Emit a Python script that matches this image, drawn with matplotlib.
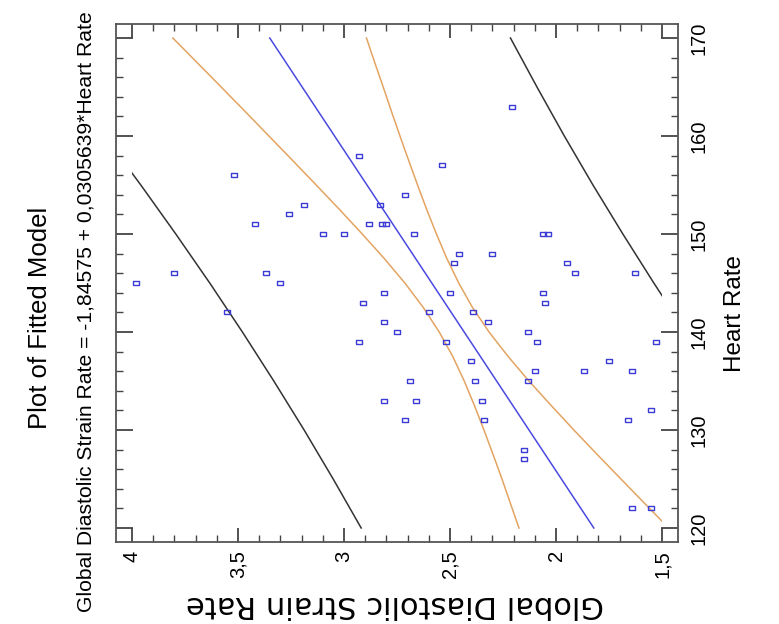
import numpy as np
import matplotlib
matplotlib.use('Agg')
import matplotlib.pyplot as plt
import matplotlib.patches as mpatches
from matplotlib.ticker import MultipleLocator

#--- DATA ---
heart_rate = [145, 146, 156, 142, 151, 146, 145, 152, 153, 150,
              150, 158, 151, 153, 151, 151, 139, 143, 144, 141,
              133, 135, 133, 131, 140, 154, 150, 142, 157, 147,
              148, 144, 139, 137, 142, 135, 133, 131, 148, 141,
              163, 150, 150, 147, 146, 146, 144, 143, 140, 139,
              139, 137, 136, 136, 136, 135, 132, 131, 128, 127,
              122, 122]
strain_rate = [3.98, 3.80, 3.52, 3.55, 3.42, 3.37, 3.30, 3.26, 3.19, 3.10,
               3.00, 2.93, 2.88, 2.83, 2.82, 2.80, 2.93, 2.91, 2.81, 2.81,
               2.81, 2.69, 2.66, 2.71, 2.75, 2.71, 2.67, 2.60, 2.54, 2.48,
               2.46, 2.50, 2.52, 2.40, 2.39, 2.38, 2.35, 2.34, 2.30, 2.32,
               2.21, 2.06, 2.04, 1.95, 1.91, 1.63, 2.06, 2.05, 2.13, 2.09,
               1.53, 1.75, 2.10, 1.87, 1.64, 2.13, 1.55, 1.66, 2.15, 2.15,
               1.64, 1.55]

# fitted line (from title equation)
fit_hr = [120, 170]
fit_sr = [1.822, 3.350]

# confidence limits (orange)
conf_hr = [120, 122.5, 125, 127.5, 130, 132.5, 135, 137.5, 140, 142.5, 145,
           147.5, 150, 152.5, 155, 157.5, 160, 162.5, 165, 167.5, 170]
conf_lo = [1.469, 1.582, 1.694, 1.806, 1.916, 2.023, 2.128, 2.226, 2.316, 2.394, 2.459,
           2.515, 2.564, 2.610, 2.653, 2.695, 2.736, 2.776, 2.815, 2.855, 2.894]
conf_hi = [2.175, 2.215, 2.255, 2.297, 2.340, 2.385, 2.433, 2.487, 2.551, 2.626, 2.713,
           2.810, 2.914, 3.021, 3.131, 3.242, 3.354, 3.466, 3.579, 3.693, 3.807]

# prediction limits (black)
pred_hr = [120, 125, 130, 135, 140, 145, 150, 155, 160, 165, 170]
pred_lo = [0.725, 0.899, 1.067, 1.230, 1.388, 1.539, 1.685, 1.826, 1.961, 2.090, 2.215]
pred_hi = [2.919, 3.051, 3.188, 3.331, 3.479, 3.633, 3.793, 3.958, 4.129, 4.304, 4.485]

sr_ticks = [4, 3.5, 3, 2.5, 2, 1.5]
sr_labels = ['4', '3,5', '3', '2,5', '2', '1,5']
hr_ticks = [120, 130, 140, 150, 160, 170]
hr_labels = ['120', '130', '140', '150', '160', '170']

title1 = 'Plot of Fitted Model'
title2 = 'Global Diastolic Strain Rate = -1,84575 + 0,0305639*Heart Rate'
xlabel = 'Heart Rate'
ylabel = 'Global Diastolic Strain Rate'

#--- FONTS ---
sans = ['Liberation Sans', 'DejaVu Sans']

#--- FIGURE ---
# chart is drawn rotated: strain rate runs left->right (inverted), heart rate bottom->top
fig = plt.figure(figsize=(7.79, 6.24), dpi=100)
ax = fig.add_axes([116/779, 1 - 542/624, (678-116)/779, (542-24)/624])

clip = mpatches.Rectangle((1.5, 100), 2.5, 100, transform=ax.transData)

line_color = '#333333'
orange = '#e3a462'
blue = '#4a4ae0'

for xs, ys, c in [(pred_lo, pred_hr, line_color), (pred_hi, pred_hr, line_color),
                  (conf_lo, conf_hr, orange), (conf_hi, conf_hr, orange),
                  (fit_sr, fit_hr, blue)]:
    ln, = ax.plot(xs, ys, color=c, lw=1.1)
    ln.set_clip_path(clip)

# small open rectangles, wider than tall
box = [(-1, -0.6), (1, -0.6), (1, 0.6), (-1, 0.6), (-1, -0.6)]
ax.plot(strain_rate, heart_rate, ls='none', marker=box, markersize=4.6,
        markerfacecolor='none', markeredgecolor='#3b3bd6', markeredgewidth=1.0)

ax.set_xlim(4.075, 1.425)
ax.set_ylim(118.57, 171.43)

ax.set_xticks(sr_ticks)
ax.set_xticklabels(sr_labels, rotation=90, family=sans, fontsize=14.5)
ax.set_yticks(hr_ticks)
ax.set_yticklabels(hr_labels, rotation=90, family=sans, fontsize=14.5, va='center')
ax.xaxis.set_minor_locator(MultipleLocator(0.1))
ax.yaxis.set_minor_locator(MultipleLocator(2))

ax.tick_params(which='both', direction='in', top=True, right=True, bottom=True, left=True,
               labelleft=False, labelright=True, labelbottom=True, color='#444444')
ax.tick_params(axis='x', which='major', length=10, width=1.3, pad=6)
ax.tick_params(axis='x', which='minor', length=5, width=1.0)
ax.tick_params(axis='y', which='major', length=12, width=1.3, pad=8)
ax.tick_params(axis='y', which='minor', length=5, width=1.0)

for sp in ax.spines.values():
    sp.set_color('#555555')
    sp.set_linewidth(1.3)

#--- TEXT ---
fig.text(40/779, 1 - 318/624, title1, rotation=90, ha='center', va='center',
         family=sans, fontsize=18.5)
fig.text(86/779, 1 - 312/624, title2, rotation=90, ha='center', va='center',
         family=sans, fontsize=15.2)
fig.text(735/779, 1 - 313/624, xlabel, rotation=90, ha='center', va='center',
         family=sans, fontsize=17.5)
fig.text(395/779, 1 - 604/624, ylabel, rotation=180, ha='center', va='center',
         family='DejaVu Sans', fontsize=22)

plt.savefig('out.png', dpi=100)
